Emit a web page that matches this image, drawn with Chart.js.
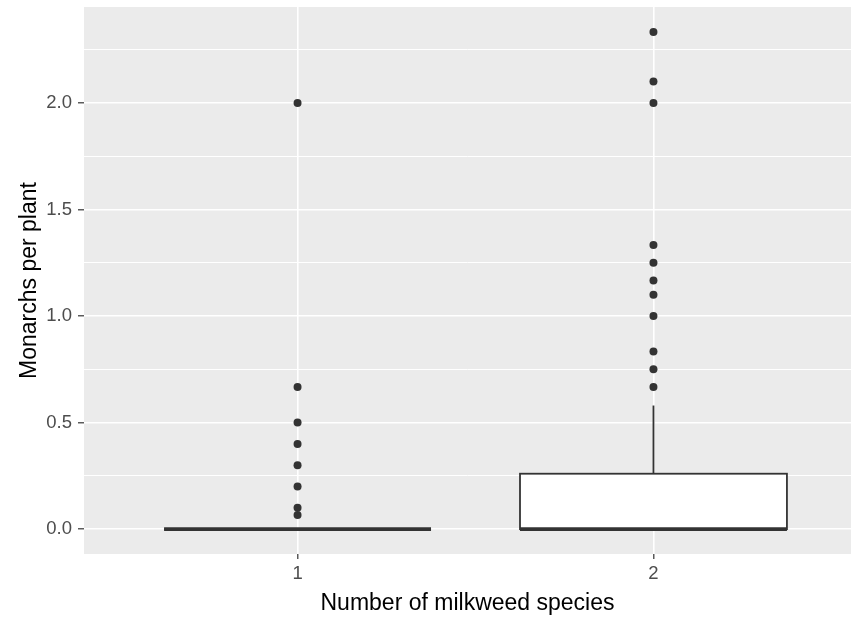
<!DOCTYPE html>
<html>
<head>
<meta charset="utf-8">
<script src="https://cdn.jsdelivr.net/npm/chart.js@4.4.1/dist/chart.umd.min.js"></script>
<style>
  html, body { margin: 0; padding: 0; background: #ffffff; }
  #wrap { width: 851px; height: 617px; }
</style>
</head>
<body>
<div id="wrap"><canvas id="mainChart" width="851" height="617"></canvas></div>
<script>
/* ── Data ───────────────────────────────────────────────────────────────────── */
const CATEGORIES   = [1, 2];
const BOX_Q1       = [0, 0];
const BOX_MEDIAN   = [0, 0];
const BOX_Q3       = [0, 0.26];
const WHISKER_LOW  = [0, 0];
const WHISKER_HIGH = [0, 0.58];

const OUTLIERS_1 = [2.0, 0.667, 0.5, 0.4, 0.3, 0.2, 0.1, 0.0667];
const OUTLIERS_2 = [2.333, 2.1, 2.0, 1.333, 1.25, 1.167, 1.1, 1.0, 0.833, 0.75, 0.667];

const Y_MAJOR = [0, 0.5, 1.0, 1.5, 2.0];
const Y_MINOR = [0.25, 0.75, 1.25, 1.75, 2.25];

/* ── Style ──────────────────────────────────────────────────────────────────── */
const PANEL_BG  = "#ebebeb";
const INK       = "#333333";
const BOX_WIDTH = 0.75;
const FONT      = "'Liberation Sans', Arial, sans-serif";

/* ── Panel + boxplot plugins ────────────────────────────────────────────────── */
const panelBg = {
  id: "panelBg",
  beforeDraw(chart) {
    const { ctx, chartArea: a } = chart;
    ctx.save();
    ctx.fillStyle = PANEL_BG;
    ctx.fillRect(a.left, a.top, a.right - a.left, a.bottom - a.top);
    ctx.restore();
  },
};

const boxes = {
  id: "boxes",
  beforeDatasetsDraw(chart) {
    const { ctx, scales: { x, y } } = chart;
    ctx.save();
    CATEGORIES.forEach((c, i) => {
      const cx = x.getPixelForValue(c);
      const x0 = x.getPixelForValue(c - BOX_WIDTH / 2);
      const x1 = x.getPixelForValue(c + BOX_WIDTH / 2);
      const yq1 = y.getPixelForValue(BOX_Q1[i]);
      const yq3 = y.getPixelForValue(BOX_Q3[i]);
      const ymed = y.getPixelForValue(BOX_MEDIAN[i]);

      ctx.strokeStyle = INK;
      ctx.lineWidth = 1.8;
      // whiskers
      ctx.beginPath();
      ctx.moveTo(cx, yq3);
      ctx.lineTo(cx, y.getPixelForValue(WHISKER_HIGH[i]));
      ctx.moveTo(cx, yq1);
      ctx.lineTo(cx, y.getPixelForValue(WHISKER_LOW[i]));
      ctx.stroke();
      // box
      ctx.fillStyle = "#ffffff";
      ctx.fillRect(x0, yq3, x1 - x0, yq1 - yq3);
      ctx.strokeRect(x0, yq3, x1 - x0, yq1 - yq3);
      // median
      ctx.lineWidth = 3.6;
      ctx.beginPath();
      ctx.moveTo(x0, ymed);
      ctx.lineTo(x1, ymed);
      ctx.stroke();
    });
    ctx.restore();
  },
};

/* ── Chart ──────────────────────────────────────────────────────────────────── */
const isMajor = (v) => Y_MAJOR.some((m) => Math.abs(m - v) < 1e-6);

new Chart(document.getElementById("mainChart").getContext("2d"), {
  type: "scatter",
  data: {
    datasets: [
      {
        data: OUTLIERS_1.map((v) => ({ x: CATEGORIES[0], y: v })),
        backgroundColor: INK, borderColor: INK, pointRadius: 4, borderWidth: 0,
      },
      {
        data: OUTLIERS_2.map((v) => ({ x: CATEGORIES[1], y: v })),
        backgroundColor: INK, borderColor: INK, pointRadius: 4, borderWidth: 0,
      },
    ],
  },
  options: {
    responsive: false,
    devicePixelRatio: 1,
    animation: false,
    layout: { autoPadding: false, padding: { top: 7, right: 0, left: 0, bottom: 0 } },
    plugins: { legend: { display: false }, tooltip: { enabled: false } },
    scales: {
      x: {
        type: "linear",
        min: 0.4,
        max: 2.555,
        afterBuildTicks: (s) => { s.ticks = CATEGORIES.map((v) => ({ value: v })); },
        afterFit: (s) => { s.height = 63; s.paddingLeft = 0; s.paddingRight = 0; },
        grid: { color: "#ffffff", lineWidth: 1.6, tickColor: INK, tickLength: 5, tickWidth: 1.2 },
        border: { display: false },
        ticks: {
          padding: 4,
          color: "#4d4d4d",
          font: { family: FONT, size: 18.5 },
          callback: (v) => String(v),
        },
        title: {
          display: true,
          text: "Number of milkweed species",
          color: "#000000",
          font: { family: FONT, size: 23 },
          padding: { top: 0, bottom: 0 },
        },
      },
      y: {
        type: "linear",
        min: -0.1167,
        max: 2.45,
        afterBuildTicks: (s) => {
          s.ticks = [...Y_MAJOR, ...Y_MINOR].sort((a, b) => a - b).map((v) => ({ value: v }));
        },
        afterFit: (s) => { s.width = 84; s.paddingTop = 0; s.paddingBottom = 0; },
        grid: {
          color: "#ffffff",
          lineWidth: (c) => (c.tick && isMajor(c.tick.value) ? 1.6 : 1.0),
          tickColor: (c) => (c.tick && isMajor(c.tick.value) ? INK : "rgba(0,0,0,0)"),
          tickLength: 6,
          tickWidth: 1.2,
        },
        border: { display: false },
        ticks: {
          padding: 6,
          color: "#4d4d4d",
          font: { family: FONT, size: 18.5 },
          callback: (v) => (isMajor(v) ? v.toFixed(1) : ""),
        },
        title: {
          display: true,
          text: "Monarchs per plant",
          color: "#000000",
          font: { family: FONT, size: 23 },
          padding: { top: 16, bottom: 0 },
        },
      },
    },
  },
  plugins: [panelBg, boxes],
});
</script>
</body>
</html>
